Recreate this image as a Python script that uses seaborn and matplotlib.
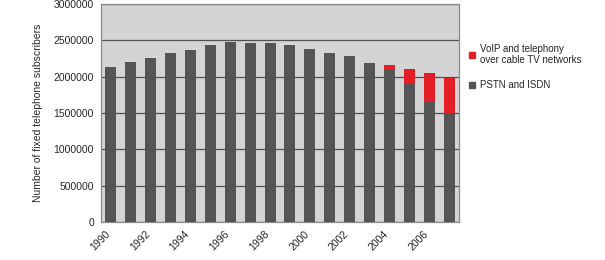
import matplotlib
matplotlib.use("Agg")
import matplotlib.pyplot as plt
from matplotlib.lines import Line2D
from matplotlib.ticker import FixedLocator
import seaborn as sns
import pandas as pd

years = [str(y) for y in range(1990, 2008)]
pstn = [2130000, 2196000, 2260000, 2320000, 2370000, 2430000, 2474000, 2460000,
        2460000, 2430000, 2374000, 2320000, 2290000, 2190000, 2085000, 1905000,
        1650000, 1500000]
voip = [0, 0, 0, 0, 0, 0, 0, 0, 0, 0, 0, 0, 0, 0, 70000, 205000, 400000, 480000]
series_names = ["VoIP and telephony\nover cable TV networks", "PSTN and ISDN"]
ylabel = "Number of fixed telephone subscribers"

df = pd.DataFrame({"year": years, "pstn": pstn, "voip": voip})
df["total"] = df["pstn"] + df["voip"]

sns.set_theme(style="white")
plt.rcParams["font.family"] = ["Liberation Sans", "DejaVu Sans"]
FS = 7.5

RED = "#e41e26"
GREY = "#555555"
BG = "#d4d4d4"

fig = plt.figure(figsize=(6.05, 2.6), dpi=100)
ax = fig.add_axes([101 / 605, 38 / 260, 358 / 605, 218 / 260])
ax.set_facecolor(BG)

sns.barplot(data=df, x="year", y="total", color=RED, width=0.55, saturation=1,
            linewidth=0, edgecolor="none", ax=ax, zorder=3)
sns.barplot(data=df, x="year", y="pstn", color=GREY, width=0.55, saturation=1,
            linewidth=0, edgecolor="none", ax=ax, zorder=3)

ax.set_xlim(-0.5, len(years) - 0.5)
ax.set_ylim(0, 3000000)
ax.set_yticks(range(0, 3000001, 500000))
ax.set_yticklabels([str(v) for v in range(0, 3000001, 500000)], fontsize=FS)
ax.yaxis.grid(True, color="#505050", linewidth=0.9, zorder=1)
ax.set_axisbelow(True)

# labels for even years, nudged slightly left of the bar centre
ax.set_xticks([i - 0.3 for i in range(0, len(years), 2)])
ax.set_xticklabels(years[::2], rotation=45, ha="right", rotation_mode="anchor",
                   fontsize=FS)
ax.tick_params(axis="x", which="major", length=0, pad=5)
ax.xaxis.set_minor_locator(FixedLocator([i - 0.5 for i in range(len(years) + 1)]))
ax.tick_params(axis="x", which="minor", length=4, width=0.8, color="#777777",
               direction="out")
ax.tick_params(axis="y", length=3, width=0.8, color="#777777", pad=2, direction="out")
ax.set_xlabel("")
ax.set_ylabel(ylabel, fontsize=FS, labelpad=8)

for s in ax.spines.values():
    s.set_color("#8a8a8a")
    s.set_linewidth(0.9)
    s.set_visible(True)

handles = [Line2D([], [], marker="s", linestyle="none", markersize=5,
                  markerfacecolor=RED, markeredgecolor=RED),
           Line2D([], [], marker="s", linestyle="none", markersize=5,
                  markerfacecolor=GREY, markeredgecolor=GREY)]
fig.legend(handles, series_names, loc="upper left", bbox_to_anchor=(463 / 605, 1 - 40 / 260),
           frameon=False, fontsize=7, handletextpad=0.4, labelspacing=1.5,
           handlelength=1.0, borderaxespad=0)

fig.savefig("out.png", dpi=100)
